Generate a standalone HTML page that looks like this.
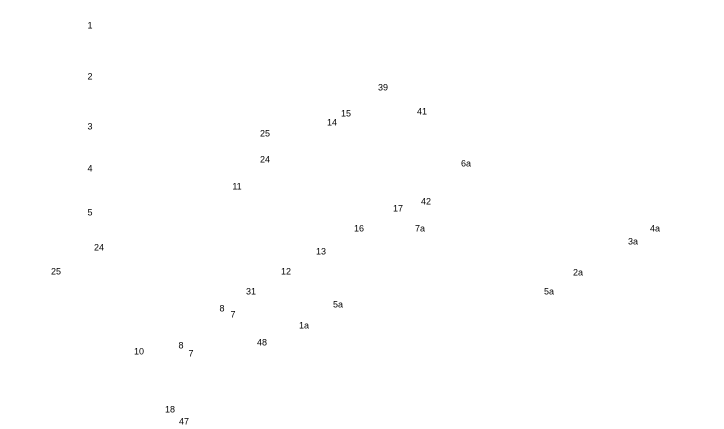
<!DOCTYPE html>
<html><head><meta charset="utf-8"><style>
html,body{margin:0;padding:0;background:#fff;}
#c{position:relative;width:724px;height:429px;overflow:hidden;font-family:"Liberation Sans",sans-serif;font-size:9px;color:#000;}
#c span{position:absolute;transform:translate(calc(-50% + 1px),calc(-50% + 1px));white-space:nowrap;line-height:1;}
</style></head><body><div id="c">
<span style="left:89px;top:25px">1</span>
<span style="left:89px;top:76px">2</span>
<span style="left:89px;top:126px">3</span>
<span style="left:89px;top:168px">4</span>
<span style="left:89px;top:212px">5</span>
<span style="left:98px;top:247px">24</span>
<span style="left:55px;top:271px">25</span>
<span style="left:382px;top:87px">39</span>
<span style="left:421px;top:111px">41</span>
<span style="left:345px;top:113px">15</span>
<span style="left:331px;top:122px">14</span>
<span style="left:264px;top:133px">25</span>
<span style="left:264px;top:159px">24</span>
<span style="left:465px;top:163px">6a</span>
<span style="left:236px;top:186px">11</span>
<span style="left:397px;top:208px">17</span>
<span style="left:425px;top:201px">42</span>
<span style="left:358px;top:228px">16</span>
<span style="left:419px;top:228px">7a</span>
<span style="left:654px;top:228px">4a</span>
<span style="left:632px;top:241px">3a</span>
<span style="left:320px;top:251px">13</span>
<span style="left:285px;top:271px">12</span>
<span style="left:577px;top:272px">2a</span>
<span style="left:548px;top:291px">5a</span>
<span style="left:250px;top:291px">31</span>
<span style="left:337px;top:304px">5a</span>
<span style="left:221px;top:308px">8</span>
<span style="left:232px;top:314px">7</span>
<span style="left:303px;top:325px">1a</span>
<span style="left:261px;top:342px">48</span>
<span style="left:180px;top:345px">8</span>
<span style="left:190px;top:353px">7</span>
<span style="left:138px;top:351px">10</span>
<span style="left:169px;top:409px">18</span>
<span style="left:183px;top:421px">47</span>
</div></body></html>
